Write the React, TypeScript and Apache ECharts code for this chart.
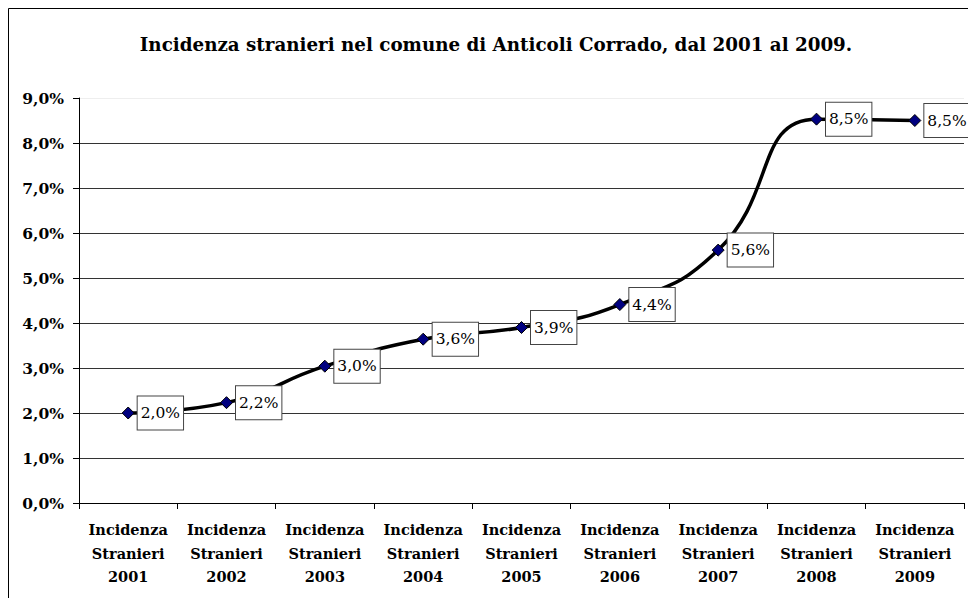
import React, { useEffect, useRef } from "react";
import * as echarts from "echarts";

const categories = [
  "Incidenza\nStranieri\n2001",
  "Incidenza\nStranieri\n2002",
  "Incidenza\nStranieri\n2003",
  "Incidenza\nStranieri\n2004",
  "Incidenza\nStranieri\n2005",
  "Incidenza\nStranieri\n2006",
  "Incidenza\nStranieri\n2007",
  "Incidenza\nStranieri\n2008",
  "Incidenza\nStranieri\n2009",
];
const values = [2.0, 2.23, 3.04, 3.64, 3.9, 4.41, 5.62, 8.53, 8.5];
const titleText = "Incidenza stranieri nel comune di Anticoli Corrado, dal 2001 al 2009.";

const SERIF = "DejaVu Serif";
const fmt = (v: number) => v.toFixed(1).replace(".", ",") + "%";

export default function App() {
  const ref = useRef<HTMLDivElement>(null);
  useEffect(() => {
    if (!ref.current) return;
    const chart = echarts.init(ref.current, null, { renderer: "svg" });
    const gridColors = ["#000", "#333", "#333", "#333", "#333", "#333", "#333", "#333", "#333", "#eeeeee"];
    chart.setOption({
      animation: false,
      backgroundColor: "#ffffff",
      title: {
        text: titleText,
        left: 491,
        top: 30,
        textAlign: "center",
        textStyle: { fontFamily: SERIF, fontSize: 18.3, fontWeight: "bold", color: "#000" },
      },
      graphic: [
        {
          type: "rect",
          shape: { x: 8.5, y: 8.5, width: 1200, height: 1200 },
          style: { fill: "none", stroke: "#000", lineWidth: 1 },
          silent: true,
          z: 100,
        },
      ],
      grid: { left: 79, right: 4, top: 98, bottom: 95 },
      xAxis: {
        type: "category",
        data: categories,
        boundaryGap: true,
        axisLine: { show: true, lineStyle: { color: "#000", width: 1 } },
        axisTick: { show: true, length: 6, lineStyle: { color: "#000" } },
        axisLabel: {
          interval: 0,
          margin: 15,
          fontFamily: SERIF,
          fontSize: 14.5,
          fontWeight: "bold",
          lineHeight: 23.5,
          color: "#000",
        },
      },
      yAxis: {
        type: "value",
        min: 0,
        max: 9,
        interval: 1,
        axisLine: { show: true, lineStyle: { color: "#000", width: 1 } },
        axisTick: { show: true, length: 6, lineStyle: { color: "#000" } },
        axisLabel: {
          margin: 15,
          fontFamily: SERIF,
          fontSize: 15.5,
          fontWeight: "bold",
          color: "#000",
          formatter: (v: number) => fmt(v),
        },
        splitLine: { show: true, lineStyle: { color: gridColors, width: 1 } },
      },
      series: [
        {
          type: "line",
          data: values,
          smooth: 0.5,
          symbol: "diamond",
          symbolSize: 12,
          lineStyle: { color: "#000", width: 3.5 },
          itemStyle: { color: "#000080", borderColor: "#000", borderWidth: 1 },
          z: 3,
          label: {
            show: true,
            position: "right",
            distance: 3,
            formatter: (p: any) => fmt(p.value),
            fontFamily: SERIF,
            fontSize: 15.5,
            color: "#000",
            backgroundColor: "#fff",
            borderColor: "#444",
            borderWidth: 1,
            padding: [9, 3, 8, 3],
          },
        },
      ],
    });
    return () => chart.dispose();
  }, []);
  return (
    <div
      ref={ref}
      style={{ position: "fixed", left: 0, top: 0, width: 968, height: 598 }}
    />
  );
}
